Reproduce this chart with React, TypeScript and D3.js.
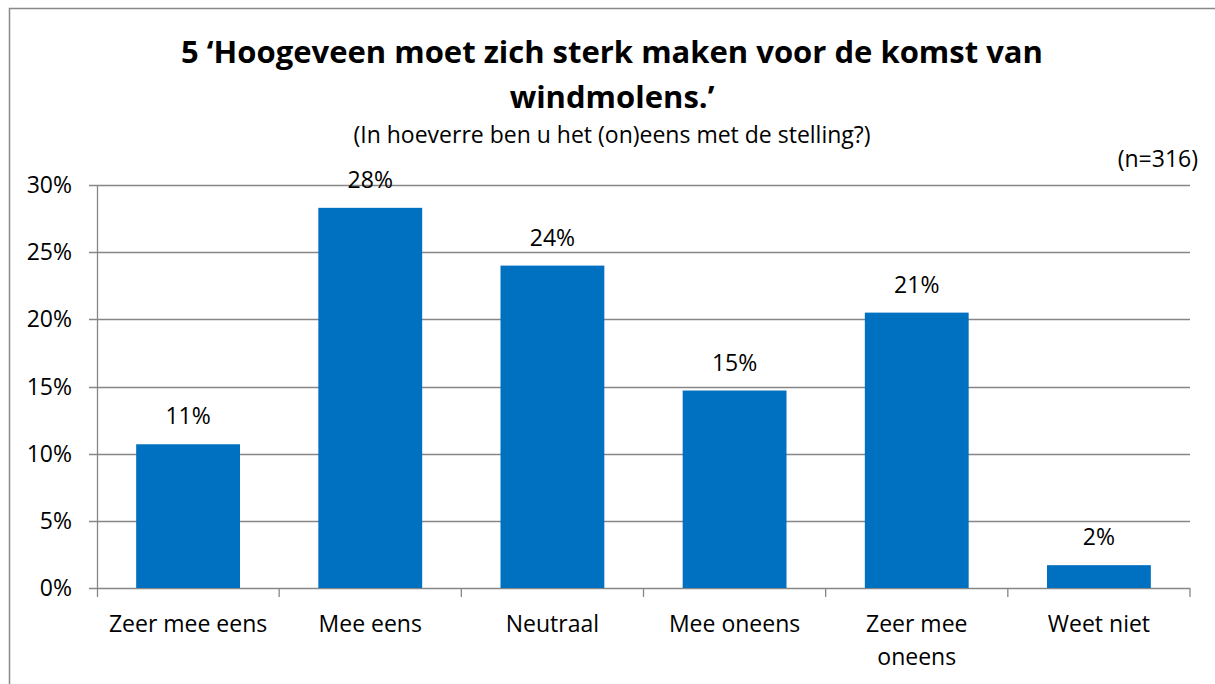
import React from "react";
import * as d3 from "d3";

const categories = ["Zeer mee eens", "Mee eens", "Neutraal", "Mee oneens", "Zeer mee oneens", "Weet niet"];
const categoryLines = [["Zeer mee eens"], ["Mee eens"], ["Neutraal"], ["Mee oneens"], ["Zeer mee", "oneens"], ["Weet niet"]];
const values = [10.7, 28.3, 24.0, 14.7, 20.5, 1.7];
const valueLabels = ["11%", "28%", "24%", "15%", "21%", "2%"];
const yTicks = [0, 5, 10, 15, 20, 25, 30];

const titleLines = ["5 \u2018Hoogeveen moet zich sterk maken voor de komst van", "windmolens.\u2019"];
const subtitle = "(In hoeverre ben u het (on)eens met de stelling?)";
const nLabel = "(n=316)";

export default function App() {
  const W = 1215, H = 684;
  const left = 97, right = 1190, top = 185, bottom = 588;
  const x = d3.scaleBand<string>().domain(categories).range([left, right]).paddingInner(0.43).paddingOuter(0.215);
  const xb = d3.scaleBand<string>().domain(categories).range([left, right]);
  const y = d3.scaleLinear().domain([0, 30]).range([bottom, top]);
  const font = "'Open Sans', sans-serif";
  const grid = "#868686";
  const fs = 23;
  return (
    <svg width={W} height={H} style={{ position: "absolute", left: 0, top: 0 }} fontFamily={font}>
      <rect x={0} y={0} width={W} height={H} fill="#fff" />
      <path d={`M9.5,${H} V8.5 H${W}`} fill="none" stroke="#898989" strokeWidth={1.5} />
      <text x={612} y={63} textAnchor="middle" fontSize={31} fontWeight="bold" fill="#000">{titleLines[0]}</text>
      <text x={612} y={108} textAnchor="middle" fontSize={31} fontWeight="bold" fill="#000">{titleLines[1]}</text>
      <text x={612} y={143} textAnchor="middle" fontSize={fs} fill="#000">{subtitle}</text>
      <text x={1198} y={167} textAnchor="end" fontSize={fs} fill="#000">{nLabel}</text>
      {yTicks.map((t) => (
        <g key={t}>
          <line x1={left - 8} x2={right} y1={Math.round(y(t)) + 0.5} y2={Math.round(y(t)) + 0.5} stroke={grid} strokeWidth={1.3} />
          <text x={72} y={y(t) + 8} textAnchor="end" fontSize={fs} fill="#000">{t}%</text>
        </g>
      ))}
      <line x1={left + 0.5} x2={left + 0.5} y1={top} y2={bottom} stroke={grid} strokeWidth={1.3} />
      {categories.map((c, i) => (
        <line key={"tk" + i} x1={xb(c)! + xb.bandwidth()} x2={xb(c)! + xb.bandwidth()} y1={bottom} y2={bottom + 9} stroke={grid} strokeWidth={1.3} />
      ))}
      <line x1={left + 0.5} x2={left + 0.5} y1={bottom} y2={bottom + 9} stroke={grid} strokeWidth={1.3} />
      {categories.map((c, i) => (
        <g key={c}>
          <rect x={x(c)} y={y(values[i])} width={x.bandwidth()} height={bottom - y(values[i])} fill="#0070C0" />
          <text x={x(c)! + x.bandwidth() / 2} y={y(values[i]) - 20} textAnchor="middle" fontSize={fs} fill="#000">{valueLabels[i]}</text>
          {categoryLines[i].map((ln, j) => (
            <text key={j} x={xb(c)! + xb.bandwidth() / 2} y={632 + j * 33} textAnchor="middle" fontSize={fs} fill="#000">{ln}</text>
          ))}
        </g>
      ))}
    </svg>
  );
}
